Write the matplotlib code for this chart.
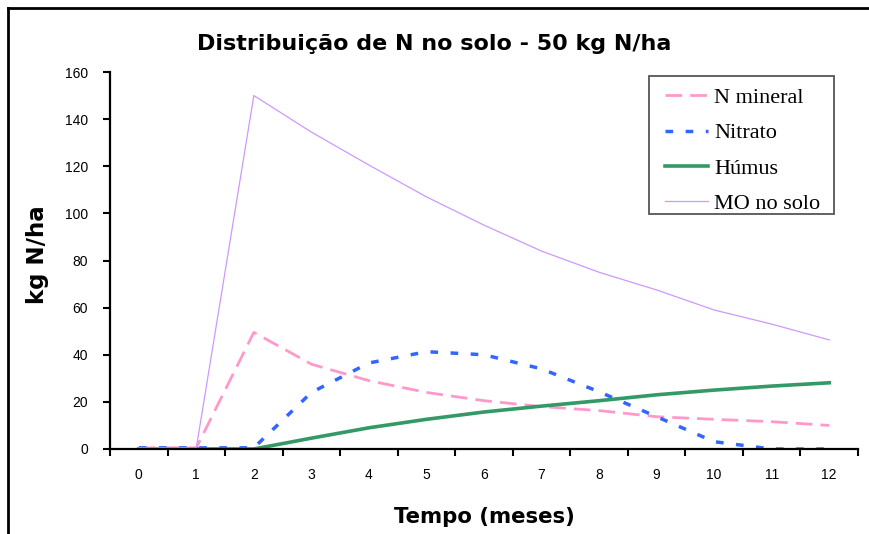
import matplotlib
matplotlib.use("Agg")
import matplotlib.pyplot as plt
from matplotlib.lines import Line2D
from matplotlib.patches import Rectangle
import numpy as np

months = [0, 1, 2, 3, 4, 5, 6, 7, 8, 9, 10, 11, 12]
n_mineral = [0.5, 0.5, 49.5, 36, 29, 24, 20.5, 18, 16.3, 13.7, 12.6, 11.6, 10]
nitrato = [0.5, 0.5, 0.5, 24, 36.5, 41.3, 40, 34, 24.3, 13.7, 3.1, 0, 0]
humus = [0, 0, 0, 4.6, 9, 12.6, 15.7, 18.2, 20.5, 23, 25, 26.7, 28.1]
mo_solo = [0.5, 0.5, 150, 134.5, 120.5, 107, 95, 84, 75, 67.5, 59, 53, 46.3]
yticks = [0, 20, 40, 60, 80, 100, 120, 140, 160]

W, H = 870, 534
fig = plt.figure(figsize=(W / 100, H / 100), dpi=100)
fig.patch.set_facecolor("white")

AX_L, AX_R, AX_T, AX_B = 110, 858, 72, 449
ax = fig.add_axes([AX_L / W, 1 - AX_B / H, (AX_R - AX_L) / W, (AX_B - AX_T) / H])
x = np.arange(len(months))


def px2ax(px, py):
    return ((px - AX_L) / (AX_R - AX_L), (AX_B - py) / (AX_B - AX_T))


ax.plot(x, n_mineral, color="#FF99CC", lw=2.0, linestyle=(0, (6, 2.9)), label="N mineral")
ax.plot(x, nitrato, color="#3366FF", lw=2.5, linestyle=(0, (2.2, 3.6)), label="Nitrato")
ax.plot(x, humus, color="#339966", lw=2.6, linestyle="-", label="Húmus")
ax.plot(x, mo_solo, color="#CC99FF", lw=0.9, linestyle="-", label="MO no solo")

ax.set_xlim(-0.5, len(months) - 0.5)
ax.set_ylim(0, 160)
ax.set_yticks(yticks)
ax.set_yticklabels([str(v) for v in yticks], fontfamily="Liberation Sans", fontsize=10)
ax.set_xticks(x)
ax.set_xticklabels([str(m) for m in months], fontfamily="Liberation Sans", fontsize=10)
ax.set_xticks(np.arange(-0.5, len(months), 1.0), minor=True)
ax.tick_params(axis="x", which="major", length=0, pad=14)
ax.tick_params(axis="x", which="minor", length=5, width=1.5, direction="out")
ax.tick_params(axis="y", which="major", length=5, width=1.5, direction="out", pad=11)

for s in ["top", "right"]:
    ax.spines[s].set_visible(False)
for s in ["left", "bottom"]:
    ax.spines[s].set_linewidth(1.6)
    ax.spines[s].set_color("black")

leg = ax.legend(loc="upper left", bbox_to_anchor=px2ax(665, 87.5),
                prop={"family": "Liberation Serif", "size": 16},
                frameon=False, handlelength=1.95, handletextpad=0.25,
                borderpad=0, labelspacing=0.66, borderaxespad=0)

bx0, by0 = px2ax(649, 214)
bx1, by1 = px2ax(834, 76)
ax.add_patch(Rectangle((bx0, by0), bx1 - bx0, by1 - by0, transform=ax.transAxes,
                       facecolor="none", edgecolor="#555555", lw=1.3, clip_on=False,
                       zorder=5))

fig.text(434.5 / W, 1 - 44 / H, "Distribuição de N no solo - 50 kg N/ha",
         ha="center", va="center", fontsize=16, fontweight="bold", family="DejaVu Sans")
fig.text(484 / W, 1 - 517 / H, "Tempo (meses)", ha="center", va="center",
         fontsize=15.3, fontweight="bold", family="DejaVu Sans")
fig.text(38 / W, 1 - 255 / H, "kg N/ha", ha="center", va="center", rotation=90,
         fontsize=16.5, fontweight="bold", family="DejaVu Sans")

# outer chart-area frame (top and left edges visible)
fig.add_artist(Line2D([8 / W, 1.0], [1 - 8 / H, 1 - 8 / H], transform=fig.transFigure,
                      color="black", lw=2))
fig.add_artist(Line2D([8 / W, 8 / W], [0, 1 - 8 / H], transform=fig.transFigure,
                      color="black", lw=2))

fig.savefig("out.png", dpi=100)
